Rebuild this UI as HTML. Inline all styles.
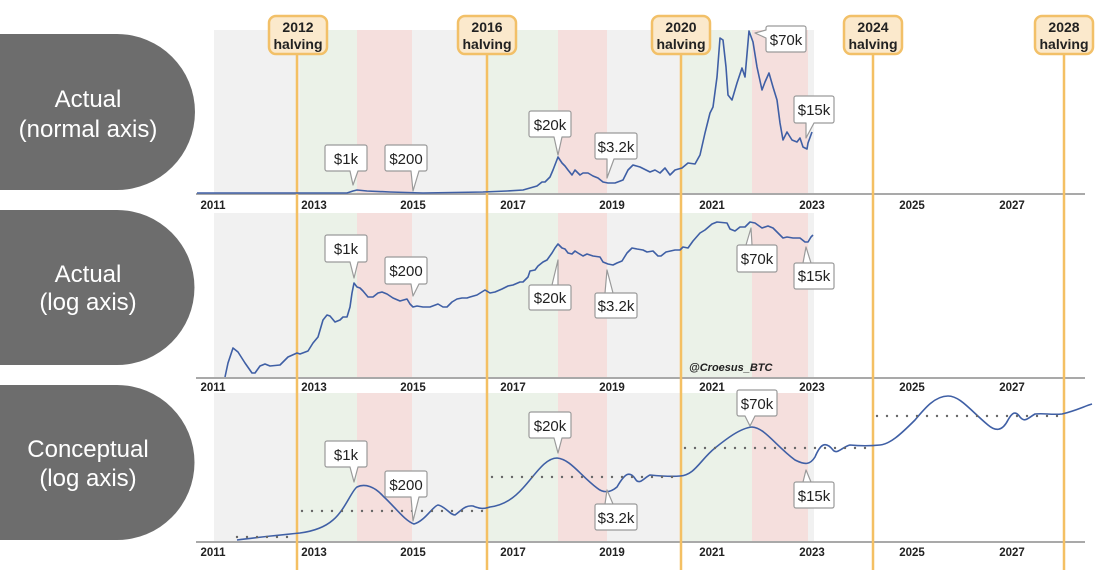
<!DOCTYPE html>
<html><head><meta charset="utf-8"><style>
html,body{margin:0;padding:0;background:#fff;width:1120px;height:570px;overflow:hidden}
svg{display:block}
</style></head><body>
<svg width="1120" height="570" viewBox="0 0 1120 570" xmlns="http://www.w3.org/2000/svg" font-family="Liberation Sans, sans-serif">
<defs>
<g id="hb"><rect x="-29" y="16" width="58" height="38" rx="7" fill="#fbe9cc" stroke="#f2c068" stroke-width="2.5"/></g>
<g id="bandset">
<rect x="214" y="0" width="86" height="1" fill="#f1f1f1"/>
<rect x="300" y="0" width="57" height="1" fill="#ebf2e8"/>
<rect x="357" y="0" width="55" height="1" fill="#f5dfdd"/>
<rect x="412" y="0" width="75" height="1" fill="#f1f1f1"/>
<rect x="487" y="0" width="71" height="1" fill="#ebf2e8"/>
<rect x="558" y="0" width="49" height="1" fill="#f5dfdd"/>
<rect x="607" y="0" width="74" height="1" fill="#f1f1f1"/>
<rect x="681" y="0" width="71" height="1" fill="#ebf2e8"/>
<rect x="752" y="0" width="56" height="1" fill="#f5dfdd"/>
<rect x="808" y="0" width="6" height="1" fill="#f1f1f1"/>
</g>
</defs>
<!-- pills -->
<g fill="#6d6d6d">
<path d="M0 34 H117 A78 78 0 0 1 117 190 H0 Z"/>
<path d="M0 210 H117 A77.5 77.5 0 0 1 117 365 H0 Z"/>
<path d="M0 385 H117 A77.5 77.5 0 0 1 117 540 H0 Z"/>
</g>
<g fill="#fff" font-size="24" text-anchor="middle">
<text x="88" y="107">Actual</text><text x="88" y="137">(normal axis)</text>
<text x="88" y="282">Actual</text><text x="88" y="310">(log axis)</text>
<text x="88" y="457">Conceptual</text><text x="88" y="486">(log axis)</text>
</g>
<!-- bands -->
<use href="#bandset" transform="translate(0,30) scale(1,164)"/>
<use href="#bandset" transform="translate(0,213) scale(1,165)"/>
<use href="#bandset" transform="translate(0,393) scale(1,149)"/>
<!-- axes -->
<g stroke="#a9a9a9" stroke-width="2">
<line x1="196" y1="194" x2="1085" y2="194"/>
<line x1="196" y1="378" x2="1085" y2="378"/>
<line x1="196" y1="542" x2="1085" y2="542"/>
</g>
<g font-size="11.5" font-weight="bold" fill="#222" text-anchor="middle">
<g id="yl">
<text x="213" y="209">2011</text><text x="314" y="209">2013</text><text x="413" y="209">2015</text><text x="513" y="209">2017</text><text x="612" y="209">2019</text><text x="712" y="209">2021</text><text x="812" y="209">2023</text><text x="912" y="209">2025</text><text x="1012" y="209">2027</text>
</g>
<use href="#yl" transform="translate(0,182)"/>
<use href="#yl" transform="translate(0,347)"/>
</g>
<text x="689" y="371" font-size="11" font-weight="bold" font-style="italic" fill="#222">@Croesus_BTC</text>
<!-- halving lines -->
<g stroke="#f4c063" stroke-width="2.5">
<line x1="297" y1="50" x2="297" y2="570"/>
<line x1="487" y1="50" x2="487" y2="570"/>
<line x1="681" y1="50" x2="681" y2="570"/>
<line x1="873" y1="50" x2="873" y2="570"/>
<line x1="1064" y1="50" x2="1064" y2="570"/>
</g>
<use href="#hb" x="298"/><use href="#hb" x="487"/><use href="#hb" x="681"/><use href="#hb" x="873"/><use href="#hb" x="1064"/>
<g font-size="14" font-weight="bold" fill="#222" text-anchor="middle">
<text x="298" y="32">2012</text><text x="298" y="49">halving</text>
<text x="487" y="32">2016</text><text x="487" y="49">halving</text>
<text x="681" y="32">2020</text><text x="681" y="49">halving</text>
<text x="873" y="32">2024</text><text x="873" y="49">halving</text>
<text x="1064" y="32">2028</text><text x="1064" y="49">halving</text>
</g>
<!-- series -->
<g fill="none" stroke="#3f5fa5" stroke-width="1.6" stroke-linejoin="round">
<polyline points="197,193 290,193 347,193 353,191 357,190 367,191 390,192 423,193 483,192 507,191 523,190 530,188 537,186 542,182 545,182 550,177 553,170 558,157 562,163 565,166 568,170 572,175 575,170 580,175 583,173 588,173 593,176 598,178 603,182 608,183 615,183 623,180 628,170 633,165 640,167 650,172 655,170 660,173 665,168 670,175 675,170 682,168 688,163 695,164 700,155 705,133 710,113 713,107 717,77 720,38 723,40 726,67 728,95 732,100 737,83 742,68 745,77 749,31 753,42 757,67 762,90 765,82 769,73 773,87 777,100 780,123 783,140 787,132 792,140 797,142 800,138 803,147 807,149 808,143 812,132"/>
<polyline points="225,377 228,363 233,348 238,352 245,363 252,373 255,373 260,366 265,364 270,366 280,365 288,357 297,353 300,354 308,351 313,343 318,337 323,320 327,315 330,316 335,322 340,320 343,317 347,317 350,307 352,293 354,283 357,287 360,288 363,291 368,297 373,297 378,293 382,292 387,294 393,298 400,301 407,299 410,304 413,307 417,306 423,307 430,307 438,304 443,307 447,307 452,302 457,299 462,298 467,298 470,297 477,295 485,290 490,293 495,292 502,289 508,286 513,285 520,282 523,282 528,277 530,271 535,270 538,266 543,262 547,260 552,253 555,248 558,244 562,248 565,249 568,253 572,254 575,251 578,253 583,256 587,254 593,256 600,257 603,262 608,264 613,265 617,263 622,261 627,253 632,248 637,249 643,250 647,252 653,251 658,256 661,256 666,252 675,250 680,250 683,247 688,248 693,241 700,233 705,230 712,224 717,222 727,223 730,229 735,231 740,227 745,227 750,222 755,223 762,228 768,226 773,228 778,233 783,238 787,237 793,238 800,238 805,242 808,242 811,237 813,235"/>
<path d="M237,540 C260,537 280,535 300,533 C315,531 325,527 333,520 C345,510 352,490 357,487 C365,483 375,487 383,496 C395,507 405,521 414,524 C425,521 433,506 438,505 C445,506 450,515 455,515 C462,510 465,505 473,506 C480,509 484,509 490,507 C505,505 515,497 523,488 C535,475 545,458 557,458 C570,459 580,475 597,488 C603,493 610,493 617,487 C625,473 630,470 636,480 C640,485 645,477 650,475 C660,476 670,477 680,476 C695,475 700,460 715,448 C725,440 740,428 752,427 C765,428 775,445 795,460 C805,465 810,465 815,457 C820,445 825,440 833,450 C837,455 842,447 850,445 C860,446 870,446 880,445 C890,444 900,435 915,420 C925,408 935,396 948,396 C960,396 970,410 988,425 C995,431 1002,432 1008,420 C1012,413 1015,410 1020,417 C1025,423 1028,418 1035,414 C1045,413 1050,415 1062,414 C1075,411 1085,406 1092,404"/>
</g>
<g stroke="#666" stroke-width="2.4" stroke-linecap="round" stroke-dasharray="0 10">
<line x1="237" y1="537" x2="290" y2="537"/>
<line x1="302" y1="511" x2="485" y2="511"/>
<line x1="492" y1="477" x2="680" y2="477"/>
<line x1="685" y1="448" x2="870" y2="448"/>
<line x1="877" y1="416" x2="1062" y2="416"/>
</g>
<!-- callouts -->
<g fill="#fff" stroke="#9a9a9a" stroke-width="1.2" stroke-linejoin="round">
<path d="M327,145 h38 a2,2 0 0 1 2,2 v22 a2,2 0 0 1 -2,2 h-7 l-5,14 l-3,-14 h-23 a2,2 0 0 1 -2,-2 v-22 a2,2 0 0 1 2,-2z"/>
<path d="M387,145 h38 a2,2 0 0 1 2,2 v22 a2,2 0 0 1 -2,2 h-6 l-6,20 l-2,-20 h-24 a2,2 0 0 1 -2,-2 v-22 a2,2 0 0 1 2,-2z"/>
<path d="M531,111 h38 a2,2 0 0 1 2,2 v22 a2,2 0 0 1 -2,2 h-7 l-4,18 l-4,-18 h-23 a2,2 0 0 1 -2,-2 v-22 a2,2 0 0 1 2,-2z"/>
<path d="M597,133 h38 a2,2 0 0 1 2,2 v22 a2,2 0 0 1 -2,2 h-21 l-7,19 l0,-19 h-10 a2,2 0 0 1 -2,-2 v-22 a2,2 0 0 1 2,-2z"/>
<path d="M768,26 h36 a2,2 0 0 1 2,2 v22 a2,2 0 0 1 -2,2 h-36 a2,2 0 0 1 -2,-2 v-12 l-11,-5 l11,-3 v-2 a2,2 0 0 1 2,-2z"/>
<path d="M796,96 h36 a2,2 0 0 1 2,2 v23 a2,2 0 0 1 -2,2 h-18 l-8,15 l0,-15 h-10 a2,2 0 0 1 -2,-2 v-23 a2,2 0 0 1 2,-2z"/>
<path d="M327,235 h38 a2,2 0 0 1 2,2 v23 a2,2 0 0 1 -2,2 h-7 l-4,16 l-4,-16 h-23 a2,2 0 0 1 -2,-2 v-23 a2,2 0 0 1 2,-2z"/>
<path d="M387,257 h38 a2,2 0 0 1 2,2 v23 a2,2 0 0 1 -2,2 h-6 l-6,12 l-2,-12 h-24 a2,2 0 0 1 -2,-2 v-23 a2,2 0 0 1 2,-2z"/>
<path d="M531,285 h38 a2,2 0 0 1 2,2 v21 a2,2 0 0 1 -2,2 h-38 a2,2 0 0 1 -2,-2 v-21 a2,2 0 0 1 2,-2 h21 l6,-25 l0,25z"/>
<path d="M597,293 h38 a2,2 0 0 1 2,2 v21 a2,2 0 0 1 -2,2 h-38 a2,2 0 0 1 -2,-2 v-21 a2,2 0 0 1 2,-2 h8 l2,-23 l6,23z"/>
<path d="M739,245 h36 a2,2 0 0 1 2,2 v23 a2,2 0 0 1 -2,2 h-36 a2,2 0 0 1 -2,-2 v-23 a2,2 0 0 1 2,-2 h7 l5,-17 l1,17z"/>
<path d="M796,263 h36 a2,2 0 0 1 2,2 v22 a2,2 0 0 1 -2,2 h-36 a2,2 0 0 1 -2,-2 v-22 a2,2 0 0 1 2,-2 h7 l3,-16 l5,16z"/>
<path d="M327,441 h38 a2,2 0 0 1 2,2 v22 a2,2 0 0 1 -2,2 h-7 l-4,15 l-4,-15 h-23 a2,2 0 0 1 -2,-2 v-22 a2,2 0 0 1 2,-2z"/>
<path d="M387,471 h38 a2,2 0 0 1 2,2 v22 a2,2 0 0 1 -2,2 h-6 l-6,24 l-2,-24 h-24 a2,2 0 0 1 -2,-2 v-22 a2,2 0 0 1 2,-2z"/>
<path d="M531,412 h38 a2,2 0 0 1 2,2 v22 a2,2 0 0 1 -2,2 h-7 l-4,15 l-4,-15 h-23 a2,2 0 0 1 -2,-2 v-22 a2,2 0 0 1 2,-2z"/>
<path d="M597,504 h38 a2,2 0 0 1 2,2 v22 a2,2 0 0 1 -2,2 h-38 a2,2 0 0 1 -2,-2 v-22 a2,2 0 0 1 2,-2 h8 l2,-14 l6,14z"/>
<path d="M739,390 h36 a2,2 0 0 1 2,2 v22 a2,2 0 0 1 -2,2 h-20 l-5,10 l-5,-10 h-6 a2,2 0 0 1 -2,-2 v-22 a2,2 0 0 1 2,-2z"/>
<path d="M796,482 h36 a2,2 0 0 1 2,2 v22 a2,2 0 0 1 -2,2 h-36 a2,2 0 0 1 -2,-2 v-22 a2,2 0 0 1 2,-2 h7 l3,-12 l5,12z"/>
</g>
<g font-size="15" fill="#222" text-anchor="middle">
<text x="346" y="164">$1k</text><text x="406" y="164">$200</text><text x="550" y="130">$20k</text><text x="616" y="152">$3.2k</text><text x="786" y="45">$70k</text><text x="814" y="115">$15k</text>
<text x="346" y="254">$1k</text><text x="406" y="276">$200</text><text x="550" y="303">$20k</text><text x="616" y="311">$3.2k</text><text x="757" y="264">$70k</text><text x="814" y="281">$15k</text>
<text x="346" y="460">$1k</text><text x="406" y="490">$200</text><text x="550" y="431">$20k</text><text x="616" y="523">$3.2k</text><text x="757" y="409">$70k</text><text x="814" y="501">$15k</text>
</g>
</svg>
</body></html>
